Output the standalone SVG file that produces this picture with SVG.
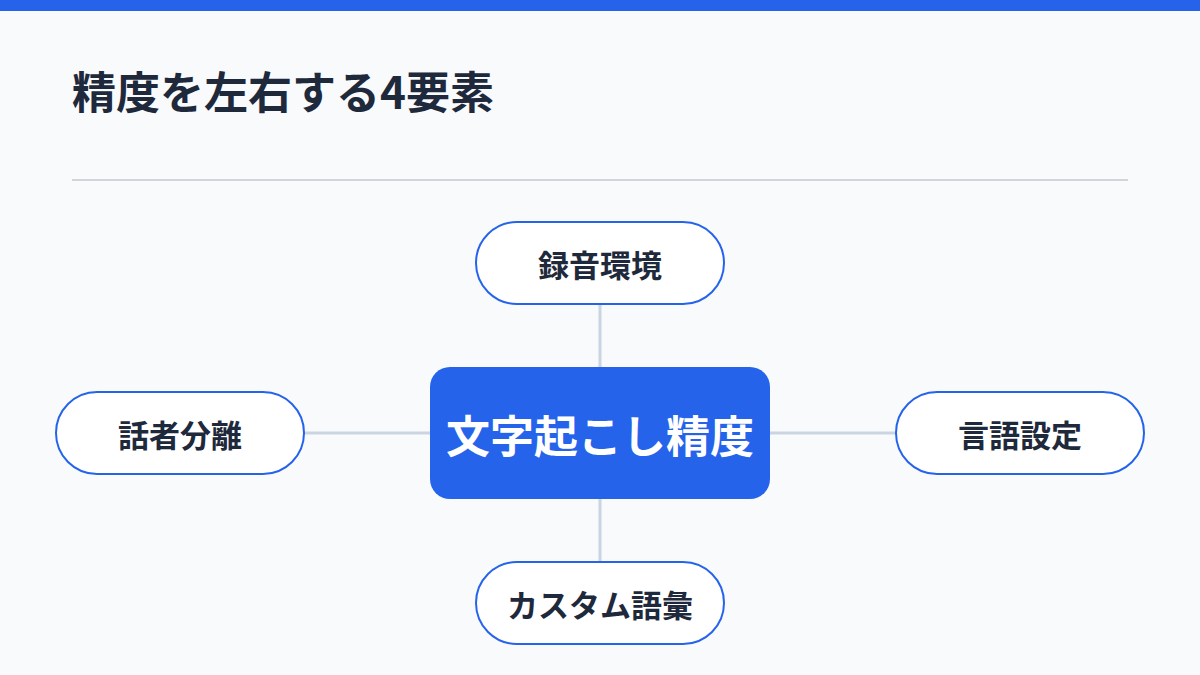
<svg xmlns="http://www.w3.org/2000/svg" width="1200" height="675" viewBox="0 0 1200 675">
<style>
.pill{fill:#ffffff;stroke:#2563eb;stroke-width:2}
.ptxt{font-family:"Noto Sans CJK JP","Noto Sans",sans-serif;font-size:31px;font-weight:600;fill:#1e293b;text-anchor:middle;dominant-baseline:central}
.conn{stroke:#cbd5e1;stroke-width:3;fill:none}
</style>
<rect x="0" y="0" width="1200" height="675" fill="#f8fafc"/>
<rect x="0" y="0" width="1200" height="11" fill="#2563eb"/>
<text x="72" y="109" font-family="'Noto Sans CJK JP','Noto Sans',sans-serif" font-size="44" font-weight="700" fill="#1e293b">精度を左右する4要素</text>
<line x1="72" y1="180" x2="1128" y2="180" stroke="#d1d5db" stroke-width="2"/>
<g id="connectors">
<line class="conn" x1="600" y1="304" x2="600" y2="367"/>
<line class="conn" x1="600" y1="499" x2="600" y2="562"/>
<line class="conn" x1="305" y1="433" x2="430" y2="433"/>
<line class="conn" x1="770" y1="433" x2="895" y2="433"/>
</g>
<g id="center">
<rect x="430" y="367" width="340" height="132" rx="20" fill="#2563eb"/>
<text x="600" y="434" font-family="'Noto Sans CJK JP','Noto Sans',sans-serif" font-size="44" font-weight="700" fill="#ffffff" text-anchor="middle" dominant-baseline="central">文字起こし精度</text>
</g>
<g id="top">
<rect class="pill" x="476" y="222" width="248" height="82" rx="41"/>
<text class="ptxt" x="600" y="263">録音環境</text>
</g>
<g id="left">
<rect class="pill" x="56" y="392" width="248" height="82" rx="41"/>
<text class="ptxt" x="180" y="433">話者分離</text>
</g>
<g id="right">
<rect class="pill" x="896" y="392" width="248" height="82" rx="41"/>
<text class="ptxt" x="1020" y="433">言語設定</text>
</g>
<g id="bottom">
<rect class="pill" x="476" y="562" width="248" height="82" rx="41"/>
<text class="ptxt" x="600" y="603">カスタム語彙</text>
</g>
</svg>
